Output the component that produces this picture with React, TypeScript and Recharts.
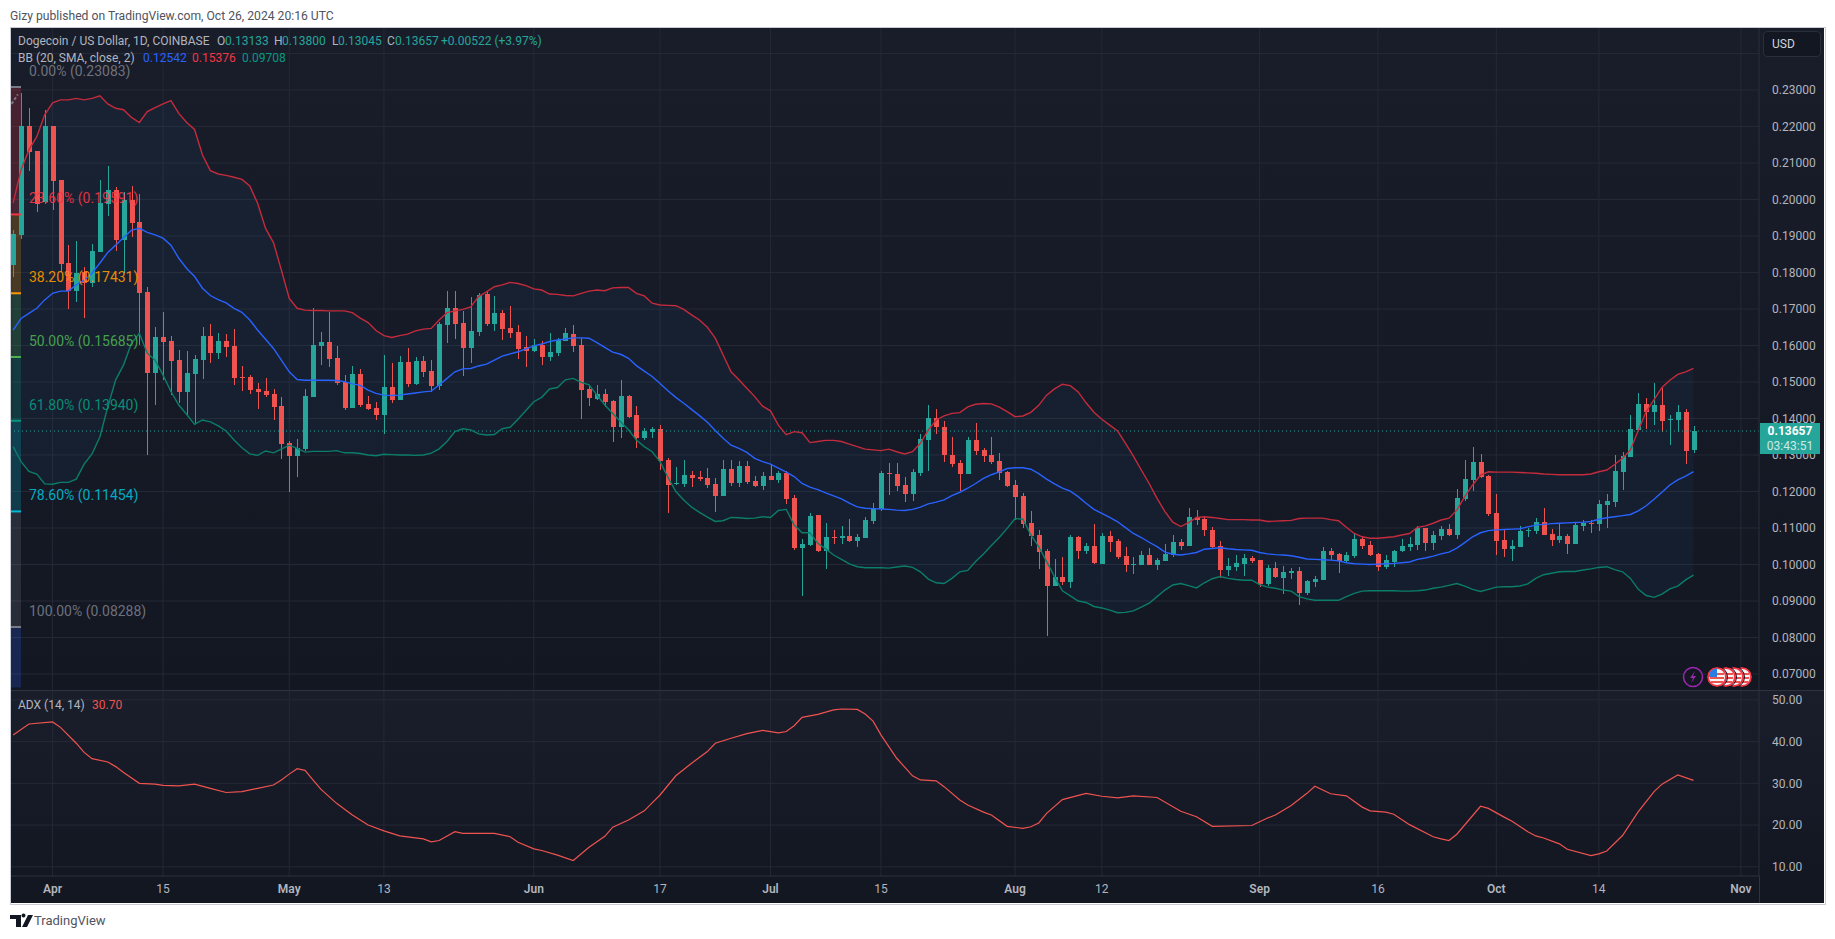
import { Area, Bar, CartesianGrid, ComposedChart, Line, LineChart, ReferenceArea, ReferenceDot, ReferenceLine, XAxis, YAxis } from 'recharts'

// daily values from Mar 27 2024 (day -5) to Oct 26 2024 (day 208), day 0 = Apr 1
const opens = [
  .1821,.1903,.2201,.2133,.1992,.2201,.2053,.1825,.1749,.1802,.1770,.1857,.1988,.2026,.1889,.1999,.1938,.1746,.1526,.1622,
  .1611,.1560,.1474,.1522,.1560,.1626,.1580,.1612,.1599,.1514,.1514,.1481,.1475,.1467,.1434,.1332,.1297,.1316,.1459,.1599,
  .1610,.1566,.1501,.1429,.1522,.1440,.1429,.1410,.1486,.1451,.1555,.1495,.1558,.1530,.1489,.1656,.1704,.1663,.1593,.1637,
  .1742,.1659,.1690,.1648,.1637,.1596,.1585,.1601,.1569,.1579,.1612,.1632,.1601,.1481,.1453,.1467,.1448,.1377,.1462,.1410,
  .1347,.1363,.1371,.1286,.1221,.1221,.1245,.1240,.1237,.1221,.1188,.1262,.1223,.1270,.1229,.1215,.1243,.1232,.1251,.1182,
  .1045,.1053,.1136,.1037,.1075,.1073,.1078,.1064,.1073,.1119,.1152,.1251,.1248,.1218,.1193,.1251,.1341,.1401,.1377,.1300,
  .1278,.1248,.1341,.1314,.1300,.1284,.1253,.1218,.1188,.1114,.1081,.1037,.0941,.0966,.0952,.1075,.1037,.1051,.1001,.1078,
  .1064,.1023,.0999,.0999,.1026,.0999,.1010,.1026,.1062,.1051,.1130,.1125,.1095,.1051,.0985,.0993,.1001,.1018,.1012,.0947,
  .0990,.0963,.0977,.0982,.0922,.0952,.0958,.1037,.1029,.1010,.1023,.1070,.1053,.1029,.0993,.1007,.1037,.1048,.1053,.1100,
  .1059,.1078,.1097,.1081,.1179,.1232,.1281,.1242,.1141,.1067,.1043,.1048,.1092,.1092,.1116,.1084,.1067,.1078,.1056,.1105,
  .1114,.1111,.1163,.1171,.1253,.1295,.1368,.1440,.1418,.1437,.1396,.1396,.1418,.13133,
]
const closes = [
  .1905,.2201,.2131,.1988,.2201,.2051,.1823,.1749,.1800,.1770,.1859,.1991,.2026,.1889,.1999,.1937,.1745,.1526,.1622,.1610,
  .1558,.1474,.1525,.1562,.1626,.1580,.1612,.1597,.1512,.1512,.1478,.1474,.1464,.1432,.1330,.1297,.1319,.1462,.1601,.1610,
  .1563,.1498,.1429,.1522,.1437,.1426,.1410,.1486,.1451,.1555,.1495,.1558,.1528,.1489,.1659,.1704,.1659,.1593,.1640,.1738,
  .1659,.1690,.1644,.1634,.1590,.1585,.1601,.1569,.1582,.1616,.1634,.1599,.1478,.1456,.1467,.1445,.1377,.1462,.1404,.1347,
  .1366,.1371,.1284,.1218,.1224,.1245,.1237,.1234,.1218,.1188,.1262,.1223,.1270,.1226,.1215,.1243,.1232,.1251,.1179,.1045,
  .1056,.1133,.1037,.1075,.1073,.1078,.1064,.1075,.1122,.1155,.1251,.1248,.1215,.1193,.1253,.1344,.1401,.1377,.1300,.1275,
  .1248,.1341,.1311,.1297,.1281,.1251,.1215,.1185,.1111,.1078,.1034,.0941,.0966,.0952,.1075,.1037,.1051,.1004,.1078,.1062,
  .1021,.0999,.1002,.1026,.0999,.1012,.1029,.1062,.1051,.1130,.1122,.1095,.1048,.0985,.0996,.1004,.1018,.1010,.0947,.0990,
  .0966,.0980,.0982,.0922,.0955,.0960,.1037,.1026,.1010,.1026,.1070,.1051,.1026,.0993,.1012,.1037,.1051,.1056,.1100,.1059,
  .1081,.1097,.1081,.1182,.1234,.1281,.1240,.1138,.1064,.1043,.1051,.1092,.1095,.1116,.1081,.1067,.1078,.1056,.1108,.1114,
  .1111,.1166,.1174,.1256,.1297,.1371,.1440,.1418,.1437,.1393,.1399,.1418,.1311,.13657,
]
const highs = [
  .1916,.2291,.2250,.2133,.2245,.2201,.2053,.1875,.1886,.1816,.1877,.2053,.2092,.2033,.2021,.2037,.2015,.1761,.1650,.1691,
  .1626,.1588,.1585,.1574,.1650,.1658,.1633,.1631,.1644,.1544,.1519,.1496,.1511,.1481,.1458,.1338,.1343,.1480,.1702,.1636,
  .1693,.1599,.1519,.1544,.1537,.1462,.1444,.1574,.1551,.1571,.1592,.1568,.1571,.1560,.1665,.1749,.1749,.1695,.1734,.1745,
  .1749,.1736,.1697,.1708,.1656,.1626,.1618,.1612,.1633,.1620,.1647,.1656,.1620,.1492,.1492,.1481,.1451,.1506,.1464,.1434,
  .1374,.1377,.1382,.1292,.1267,.1286,.1256,.1256,.1264,.1237,.1286,.1286,.1284,.1284,.1243,.1254,.1273,.1256,.1256,.1190,
  .1070,.1141,.1136,.1114,.1095,.1106,.1125,.1084,.1130,.1169,.1256,.1278,.1278,.1240,.1262,.1358,.1437,.1426,.1393,.1349,
  .1286,.1349,.1388,.1319,.1349,.1305,.1256,.1232,.1196,.1147,.1095,.1042,.1015,.1021,.1081,.1078,.1059,.1111,.1086,.1092,
  .1070,.1048,.1021,.1037,.1045,.1018,.1056,.1081,.1070,.1155,.1149,.1133,.1103,.1064,.1018,.1026,.1029,.1023,.1012,.0999,
  .1007,.0996,.0990,.0993,.0958,.0969,.1048,.1045,.1032,.1034,.1084,.1078,.1064,.1032,.1026,.1040,.1070,.1075,.1106,.1100,
  .1092,.1106,.1111,.1207,.1286,.1322,.1303,.1245,.1193,.1095,.1067,.1106,.1100,.1127,.1155,.1097,.1114,.1084,.1114,.1122,
  .1122,.1177,.1193,.1300,.1308,.1410,.1470,.1456,.1497,.1484,.1410,.1437,.1426,.13800,
]
const lows = [
  .1789,.1892,.2079,.1967,.1989,.1971,.1802,.1700,.1719,.1676,.1761,.1855,.1955,.1860,.1800,.1898,.1601,.1301,.1437,.1506,
  .1464,.1442,.1410,.1387,.1509,.1553,.1564,.1568,.1492,.1476,.1467,.1427,.1460,.1396,.1289,.1199,.1241,.1310,.1458,.1547,
  .1542,.1492,.1422,.1429,.1431,.1423,.1396,.1358,.1443,.1451,.1487,.1492,.1514,.1474,.1478,.1606,.1618,.1516,.1553,.1626,
  .1653,.1640,.1615,.1621,.1563,.1541,.1581,.1547,.1558,.1571,.1612,.1582,.1399,.1434,.1451,.1432,.1336,.1347,.1401,.1319,
  .1341,.1347,.1259,.1140,.1218,.1212,.1212,.1229,.1210,.1145,.1188,.1215,.1212,.1221,.1212,.1204,.1232,.1223,.1166,.1040,
  .0914,.1051,.1034,.0988,.1056,.1056,.1062,.1049,.1073,.1111,.1147,.1190,.1201,.1171,.1174,.1242,.1256,.1358,.1281,.1267,
  .1201,.1248,.1300,.1281,.1275,.1232,.1212,.1122,.1100,.1051,.0988,.0804,.0941,.0944,.0936,.1015,.1029,.1001,.1001,.1034,
  .1015,.0980,.0974,.0999,.0999,.0985,.1010,.1021,.1040,.1051,.1108,.1078,.1045,.0963,.0969,.0982,.0969,.1004,.0938,.0941,
  .0963,.0919,.0960,.0889,.0917,.0938,.0958,.1012,.0977,.1004,.1018,.1043,.1023,.0982,.0988,.0993,.1034,.1037,.1040,.1037,
  .1040,.1067,.1078,.1070,.1174,.1201,.1237,.1133,.1026,.1021,.1010,.1048,.1075,.1084,.1081,.1051,.1059,.1029,.1056,.1092,
  .1086,.1092,.1100,.1158,.1204,.1295,.1368,.1371,.1382,.1363,.1327,.1363,.1275,.13045,
]
const bbUpper = [
  .1991,.2081,.2136,.2172,.2232,.2265,.2273,.2273,.2277,.2273,.2277,.2284,.2262,.2250,.2246,.2225,.2211,.2241,.2252,.2262,
  .2271,.2236,.2211,.2192,.2122,.2079,.2070,.2066,.2061,.2055,.2037,.1989,.1921,.1882,.1807,.1729,.1702,.1697,.1696,.1696,
  .1695,.1695,.1695,.1690,.1675,.1663,.1641,.1627,.1622,.1627,.1631,.1640,.1645,.1647,.1670,.1690,.1695,.1699,.1706,.1734,
  .1747,.1761,.1766,.1773,.1770,.1764,.1755,.1752,.1741,.1740,.1737,.1736,.1743,.1749,.1752,.1750,.1758,.1759,.1759,.1743,
  .1736,.1716,.1711,.1710,.1709,.1699,.1684,.1670,.1650,.1620,.1574,.1528,.1506,.1483,.1460,.1434,.1421,.1382,.1356,.1364,
  .1361,.1334,.1337,.1340,.1340,.1337,.1330,.1323,.1316,.1314,.1312,.1316,.1309,.1303,.1309,.1332,.1368,.1396,.1407,.1414,
  .1416,.1432,.1439,.1441,.1440,.1431,.1419,.1405,.1407,.1417,.1436,.1464,.1481,.1494,.1490,.1473,.1443,.1417,.1398,.1382,
  .1366,.1332,.1297,.1259,.1222,.1181,.1145,.1116,.1104,.1115,.1129,.1131,.1129,.1126,.1123,.1123,.1123,.1122,.1122,.1118,
  .1119,.1120,.1121,.1126,.1127,.1127,.1127,.1123,.1120,.1102,.1085,.1076,.1072,.1072,.1074,.1076,.1081,.1085,.1102,.1106,
  .1113,.1122,.1127,.1149,.1186,.1218,.1245,.1254,.1253,.1253,.1253,.1252,.1251,.1250,.1248,.1247,.1246,.1246,.1246,.1246,
  .1248,.1254,.1259,.1274,.1291,.1314,.1368,.1419,.1452,.1485,.1505,.1521,.1528,.15376,
]
const bbMiddle = [
  .1642,.1674,.1688,.1702,.1725,.1743,.1749,.1749,.1766,.1779,.1798,.1826,.1855,.1875,.1896,.1916,.1921,.1910,.1903,.1894,
  .1875,.1839,.1811,.1789,.1757,.1737,.1726,.1717,.1702,.1691,.1670,.1642,.1617,.1592,.1560,.1528,.1507,.1505,.1505,.1505,
  .1505,.1504,.1501,.1495,.1491,.1478,.1469,.1464,.1463,.1464,.1467,.1470,.1473,.1475,.1492,.1510,.1528,.1536,.1537,.1544,
  .1549,.1560,.1571,.1577,.1583,.1591,.1599,.1604,.1611,.1615,.1618,.1621,.1621,.1620,.1608,.1595,.1582,.1576,.1565,.1545,
  .1530,.1515,.1496,.1476,.1458,.1442,.1425,.1408,.1390,.1367,.1346,.1327,.1318,.1307,.1291,.1282,.1275,.1264,.1253,.1241,
  .1222,.1212,.1205,.1196,.1188,.1180,.1168,.1158,.1154,.1153,.1152,.1151,.1149,.1148,.1151,.1157,.1166,.1171,.1177,.1189,
  .1198,.1209,.1222,.1236,.1246,.1254,.1263,.1265,.1265,.1261,.1249,.1234,.1221,.1209,.1201,.1186,.1168,.1151,.1140,.1129,
  .1117,.1101,.1085,.1074,.1061,.1049,.1034,.1028,.1026,.1029,.1033,.1042,.1044,.1046,.1043,.1041,.1040,.1039,.1033,.1029,
  .1027,.1026,.1024,.1020,.1015,.1014,.1013,.1012,.1010,.1005,.1002,.1001,.1000,.1001,.1002,.1003,.1005,.1007,.1014,.1018,
  .1023,.1029,.1034,.1045,.1060,.1076,.1087,.1093,.1095,.1096,.1097,.1098,.1103,.1108,.1110,.1112,.1113,.1114,.1115,.1116,
  .1118,.1124,.1128,.1131,.1134,.1137,.1147,.1161,.1179,.1198,.1218,.1232,.1242,.12542,
]
const bbLower = [
  .1323,.1282,.1255,.1248,.1221,.1220,.1225,.1225,.1234,.1275,.1303,.1350,.1432,.1506,.1547,.1606,.1633,.1579,.1560,.1519,
  .1474,.1437,.1411,.1384,.1396,.1391,.1380,.1366,.1341,.1320,.1303,.1299,.1311,.1306,.1316,.1327,.1318,.1308,.1310,.1310,
  .1310,.1312,.1306,.1306,.1304,.1300,.1298,.1302,.1301,.1300,.1300,.1299,.1300,.1305,.1317,.1337,.1364,.1372,.1369,.1358,
  .1355,.1356,.1372,.1376,.1398,.1422,.1446,.1458,.1481,.1485,.1506,.1510,.1499,.1492,.1464,.1437,.1414,.1391,.1369,.1341,
  .1323,.1309,.1282,.1239,.1200,.1177,.1157,.1143,.1130,.1118,.1120,.1129,.1128,.1126,.1127,.1131,.1129,.1148,.1151,.1108,
  .1087,.1087,.1058,.1043,.1026,.1014,.1002,.0994,.0991,.0991,.0991,.0990,.0993,.0996,.0992,.0980,.0960,.0950,.0948,.0962,
  .0980,.0984,.1008,.1029,.1052,.1074,.1099,.1126,.1124,.1081,.1049,.1008,.0967,.0928,.0914,.0900,.0896,.0885,.0881,.0875,
  .0868,.0869,.0873,.0883,.0894,.0912,.0930,.0944,.0948,.0942,.0936,.0950,.0961,.0967,.0962,.0959,.0957,.0957,.0945,.0938,
  .0935,.0930,.0927,.0912,.0906,.0902,.0902,.0902,.0902,.0912,.0921,.0927,.0928,.0928,.0928,.0928,.0927,.0927,.0928,.0930,
  .0935,.0938,.0943,.0948,.0941,.0932,.0926,.0932,.0938,.0939,.0939,.0941,.0947,.0962,.0972,.0976,.0980,.0981,.0981,.0985,
  .0988,.0992,.0994,.0986,.0980,.0962,.0932,.0915,.0910,.0919,.0933,.0941,.0958,.09708,
]
const adxDays = [
  -5,-3,0,1,3,4,5,7,8,9,11,13,14,16,18,20,22,24,26,28,29,30,31,32,33,34,36,38,40,42,44,47,48,49,51,52,56,58,59,61,62,64,66,68,70,71,73,75,76,77,79,81,83,84,86,88,90,92,93,94,95,97,99,100,102,103,104,105,107,109,110,112,113,115,116,118,119,121,123,124,125,126,128,131,133,135,137,140,143,145,147,152,154,155,157,159,160,162,164,166,167,169,170,172,175,176,177,178,181,182,184,185,187,188,189,191,192,195,196,197,199,201,203,204,206,208,
]
const adxValues = [
  41.6,44.2,44.7,43.4,39.6,37.4,35.9,35.1,34.0,32.6,30.0,29.8,29.5,29.4,29.8,28.8,27.8,28.0,28.8,29.6,30.8,32.2,33.5,33.1,30.8,28.6,25.2,22.4,20.0,18.6,17.4,16.7,16.0,16.3,18.4,18.0,18.0,17.2,15.9,14.3,13.9,12.8,11.5,14.7,17.3,19.5,21.2,23.4,25.3,27.2,31.8,34.8,37.6,39.6,40.8,41.9,42.7,42.1,42.4,43.8,45.8,46.5,47.6,47.8,47.7,46.6,44.9,41.6,36.0,31.8,30.8,30.6,29.2,26.0,24.8,23.1,22.4,19.7,19.2,19.6,20.5,22.8,26.1,27.6,26.9,26.5,27.0,26.6,23.3,22.0,19.7,19.9,21.7,22.4,24.7,27.6,29.3,27.5,27.0,24.3,23.4,23.1,22.6,20.1,17.2,16.7,16.3,17.8,24.5,24.0,21.9,20.9,18.4,17.4,16.9,15.5,14.2,12.7,13.1,13.8,17.5,23.2,28.0,29.8,32.0,30.7,
]

const priceTicks = [.07,.08,.09,.10,.11,.12,.13,.14,.15,.16,.17,.18,.19,.20,.21,.22,.23]
const priceGrid = [...priceTicks, .24]
const adxTicks = [10, 20, 30, 40, 50]
const timeTicks = [0, 14, 30, 42, 61, 77, 91, 105, 122, 133, 153, 168, 183, 196, 214]
const timeLabels = ['Apr', '15', 'May', '13', 'Jun', '17', 'Jul', '15', 'Aug', '12', 'Sep', '16', 'Oct', '14', 'Nov']
const monthLabels = ['Apr', 'May', 'Jun', 'Jul', 'Aug', 'Sep', 'Oct', 'Nov']

const fibLevels = [.23083, .19591, .17431, .15685, .13940, .11454, .08288]
const fibLabels = ['0.00% (0.23083)', '23.60% (0.19591)', '38.20% (0.17431)', '50.00% (0.15685)', '61.80% (0.13940)', '78.60% (0.11454)', '100.00% (0.08288)']
const fibColors = ['#787b86', '#f23645', '#ff9800', '#4caf50', '#089981', '#00bcd4', '#787b86']
const fibFills = ['#f23645', '#ff9800', '#4caf50', '#089981', '#00bcd4', '#787b86', '#2962ff']

const lastClose = .13657
const FONT = 'Roboto, sans-serif'
const UP = '#26a69a'
const DOWN = '#ef5350'
const GRID = '#252935'
const TEXT = '#b2b5be'
const X_DOMAIN = [-5.27, 216.3]

const table = opens.map((open, i) => ({
  day: i - 5,
  open,
  close: closes[i],
  high: highs[i],
  low: lows[i],
  range: [lows[i], highs[i]],
  upper: bbUpper[i],
  middle: bbMiddle[i],
  lower: bbLower[i],
  band: [bbLower[i], bbUpper[i]],
}))
const adxData = adxDays.map((day, i) => ({ day, adx: adxValues[i] }))

function Candle(props: any) {
  const { x, y, width, height, payload } = props
  const top = Math.min(y, y + height)
  const perUnit = Math.abs(height) / (payload.high - payload.low)
  const color = payload.close >= payload.open ? UP : DOWN
  const bodyTop = top + (payload.high - Math.max(payload.open, payload.close)) * perUnit
  const bodyBottom = top + (payload.high - Math.min(payload.open, payload.close)) * perUnit
  const cx = Math.round(x + width / 2)
  return (
    <g shapeRendering="crispEdges">
      <rect x={cx} y={top} width={1} height={Math.abs(height)} fill={color} />
      <rect x={cx - 2} y={bodyTop} width={5} height={Math.max(1, bodyBottom - bodyTop)} fill={color} />
    </g>
  )
}

function FibLabel(props: any) {
  return (
    <text x={props.cx} y={props.cy - 11} fill={props.color} fontSize={14} fontFamily={FONT} opacity={0.9}>
      {props.text}
    </text>
  )
}

function TimeTick(props: any) {
  const i = timeTicks.indexOf(props.payload.value)
  const label = timeLabels[i]
  return (
    <text x={props.x} y={203} textAnchor="middle" fill={TEXT} fontSize={12} fontFamily={FONT} fontWeight={monthLabels.includes(label) ? 600 : 400}>
      {label}
    </text>
  )
}

function Txt({ x, y, color = TEXT, size = 12, weight = 400, children }: any) {
  return (
    <span style={{ position: 'absolute', left: x, top: y, color, fontSize: size, fontWeight: weight, lineHeight: '14px', whiteSpace: 'nowrap' }}>
      {children}
    </span>
  )
}

function Flag({ cx }: { cx: number }) {
  return (
    <g>
      <circle cx={cx} cy={677} r={9} fill="#f5f5f5" stroke="#f23645" strokeWidth={2} />
      <rect x={cx - 7} y={677} width={14} height={2} fill="#ef5350" />
      <rect x={cx - 6} y={681} width={12} height={2} fill="#ef5350" />
      <rect x={cx - 7} y={673} width={14} height={2} fill="#ef5350" />
      <circle cx={cx} cy={677} r={10.5} fill="none" stroke="#131722" strokeWidth={1} />
    </g>
  )
}

export default function App() {
  return (
    <div style={{ position: 'absolute', left: 0, top: 0, width: 1835, height: 939, background: '#fff', overflow: 'hidden', fontFamily: FONT }}>
      <Txt x={10} y={9} color="#50535e" size={12.15}>Gizy published on TradingView.com, Oct 26, 2024 20:16 UTC</Txt>

      <div style={{ position: 'absolute', left: 10, top: 27, width: 1814, height: 876, border: '1px solid #c9ccd6', boxSizing: 'content-box' }} />

      <div style={{ position: 'absolute', left: 11, top: 28, width: 1813, height: 662, background: 'linear-gradient(#191d2a, #131722)' }}>
        <ComposedChart width={1813} height={662} data={table} margin={{ top: 0, right: 0, bottom: 0, left: 0 }}>
          <CartesianGrid stroke={GRID} horizontalValues={priceGrid} verticalValues={timeTicks} />
          <XAxis dataKey="day" type="number" domain={X_DOMAIN} ticks={timeTicks} allowDataOverflow hide />
          <YAxis
            orientation="right"
            width={65}
            type="number"
            domain={[.06562, .24699]}
            ticks={priceTicks}
            interval={0}
            allowDataOverflow
            axisLine={{ stroke: '#2a2e39' }}
            tickLine={false}
            tickMargin={7}
            tick={{ fill: TEXT, fontSize: 12, fontFamily: FONT }}
            tickFormatter={(v: number) => v.toFixed(5)}
          />
          <Area dataKey="band" stroke="none" fill="#2196f3" fillOpacity={0.055} isAnimationActive={false} />
          {fibFills.map((fill, i) => (
            <ReferenceArea
              key={fill}
              x1={-5.27}
              x2={-4}
              y1={fibLevels[i]}
              y2={i < 6 ? fibLevels[i + 1] : .0663}
              fill={fill}
              fillOpacity={0.22}
              stroke="none"
              ifOverflow="hidden"
            />
          ))}
          {fibLevels.map((level, i) => (
            <ReferenceLine key={level} segment={[{ x: -5.27, y: level }, { x: -4, y: level }]} stroke={fibColors[i]} strokeWidth={2} ifOverflow="hidden" />
          ))}
          {fibLevels.map((level, i) => (
            <ReferenceDot key={fibLabels[i]} x={-3} y={level} r={0} ifOverflow="visible" shape={<FibLabel text={fibLabels[i]} color={fibColors[i]} />} />
          ))}
          <ReferenceLine segment={[{ x: -5.2, y: .2262 }, { x: -4.4, y: .2288 }]} stroke="#787b86" strokeWidth={2} strokeDasharray="3 2" ifOverflow="hidden" />
          <ReferenceLine y={lastClose} stroke={UP} strokeDasharray="1 3" />
          <Bar dataKey="range" barSize={6} shape={<Candle />} isAnimationActive={false} />
          <Line dataKey="upper" stroke="#c42b3c" strokeWidth={1.4} dot={false} activeDot={false} isAnimationActive={false} />
          <Line dataKey="middle" stroke="#2962ff" strokeWidth={1.4} dot={false} activeDot={false} isAnimationActive={false} />
          <Line dataKey="lower" stroke="#0b7d68" strokeWidth={1.4} dot={false} activeDot={false} isAnimationActive={false} />
        </ComposedChart>
      </div>

      <div style={{ position: 'absolute', left: 11, top: 690, width: 1813, height: 186, background: 'linear-gradient(#1a1e2b, #131722)' }} />
      <div style={{ position: 'absolute', left: 11, top: 876, width: 1813, height: 27, background: '#131722' }} />
      <div style={{ position: 'absolute', left: 11, top: 690, width: 1813, height: 1, background: '#2f3340', zIndex: 2 }} />
      <div style={{ position: 'absolute', left: 11, top: 690 }}>
        <LineChart width={1813} height={213} data={adxData} margin={{ top: 0, right: 0, bottom: 0, left: 0 }}>
          <CartesianGrid stroke={GRID} horizontalValues={adxTicks} verticalValues={timeTicks} />
          <XAxis
            dataKey="day"
            type="number"
            domain={X_DOMAIN}
            ticks={timeTicks}
            interval={0}
            allowDataOverflow
            height={27}
            axisLine={{ stroke: '#2f3340' }}
            tickLine={false}
            tick={<TimeTick />}
          />
          <YAxis
            orientation="right"
            width={65}
            type="number"
            domain={[7.8, 52.35]}
            ticks={adxTicks}
            interval={0}
            allowDataOverflow
            axisLine={{ stroke: '#2a2e39' }}
            tickLine={false}
            tickMargin={7}
            tick={{ fill: TEXT, fontSize: 12, fontFamily: FONT }}
            tickFormatter={(v: number) => v.toFixed(2)}
          />
          <Line dataKey="adx" stroke="#ef5350" strokeWidth={1.2} dot={false} activeDot={false} isAnimationActive={false} />
        </LineChart>
      </div>
      <div style={{ position: 'absolute', left: 1759, top: 876, width: 1, height: 27, background: '#2f3340' }} />

      <Txt x={18} y={34}>Dogecoin / US Dollar, 1D, COINBASE</Txt>
      <Txt x={217} y={34}>O</Txt><Txt x={225} y={34} color={UP}>0.13133</Txt>
      <Txt x={274} y={34}>H</Txt><Txt x={282} y={34} color={UP}>0.13800</Txt>
      <Txt x={332} y={34}>L</Txt><Txt x={338} y={34} color={UP}>0.13045</Txt>
      <Txt x={387} y={34}>C</Txt><Txt x={395} y={34} color={UP}>0.13657</Txt>
      <Txt x={441} y={34} color={UP}>+0.00522 (+3.97%)</Txt>
      <Txt x={18} y={51}>BB (20, SMA, close, 2)</Txt>
      <Txt x={143} y={51} color="#2962ff">0.12542</Txt>
      <Txt x={192} y={51} color="#f23645">0.15376</Txt>
      <Txt x={242} y={51} color="#089981">0.09708</Txt>
      <Txt x={18} y={698}>ADX (14, 14)</Txt>
      <Txt x={92} y={698} color="#ef5350">30.70</Txt>

      <div style={{ position: 'absolute', left: 1763, top: 31, width: 58, height: 26, boxSizing: 'border-box', background: '#131722', border: '1px solid #2a2e39', borderRadius: 4, color: '#d1d4dc', fontSize: 12, lineHeight: '24px', paddingLeft: 8 }}>USD</div>

      <div style={{ position: 'absolute', left: 1760, top: 423, width: 60, height: 31, background: UP, color: '#fff', fontSize: 12, textAlign: 'center', lineHeight: '15px', paddingTop: 1, boxSizing: 'border-box' }}>
        <div style={{ fontWeight: 700 }}>0.13657</div>
        <div style={{ opacity: 0.75 }}>03:43:51</div>
      </div>

      <svg width={1835} height={939} style={{ position: 'absolute', left: 0, top: 0, pointerEvents: 'none' }}>
        <circle cx={1693} cy={677} r={9.5} fill="#131722" stroke="#9c27b0" strokeWidth={1.5} />
        <path d="M1695 671 L1690 678 L1693 678 L1691 683 L1696 676 L1693 676 Z" fill="#9c27b0" />
        {[1742, 1734, 1726].map((cx) => <Flag key={cx} cx={cx} />)}
        <Flag cx={1717} />
        <path d="M1709 675 A8.5 8.5 0 0 1 1717 668.5 L1717 677 L1709 677 Z" fill="#2a7de1" />
        {/* TradingView logo */}
        <path d="M10 915 H21 V927 H16 V919 H10 Z M23.5 917.5 a2 2 0 1 1 0.01 0 Z M28 915 H33 L27 927 H22 Z" fill="#131722" />
      </svg>
      <Txt x={34} y={914} color="#50535e" size={13}>TradingView</Txt>
    </div>
  )
}
